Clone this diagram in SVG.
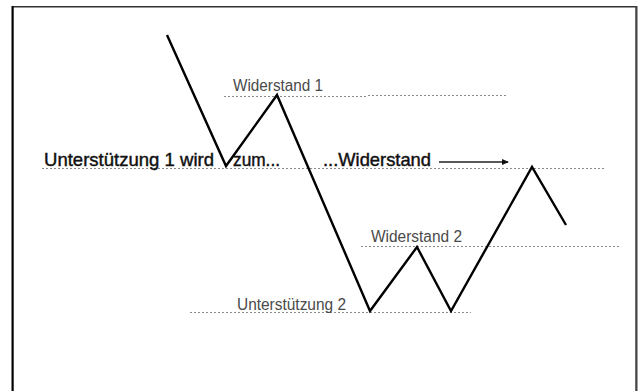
<svg xmlns="http://www.w3.org/2000/svg" width="638" height="391" viewBox="0 0 638 391">
  <style>
    .frame { fill: #ffffff; stroke: #333333; stroke-width: 1.5; }
    .level { stroke: #8a8a8a; stroke-width: 1.2; stroke-dasharray: 2 2; fill: none; }
    .price { stroke: #000000; stroke-width: 2.4; fill: none; stroke-linejoin: miter; stroke-linecap: butt; }
    .label { font-family: "Liberation Sans", Arial, sans-serif; font-size: 16px; fill: #4a4a4a; }
    .caption { font-family: "Liberation Sans", Arial, sans-serif; font-size: 19px; fill: #111111; stroke: #111111; stroke-width: 0.45; }
    .hint { stroke: #222222; stroke-width: 1.4; fill: none; }
  </style>
  <defs>
    <marker id="arrowhead" markerWidth="8" markerHeight="8" refX="6" refY="3" orient="auto" markerUnits="userSpaceOnUse">
      <path d="M0,0 L7,3 L0,6 Z" fill="#111111"/>
    </marker>
  </defs>

  <rect width="638" height="391" fill="#ffffff"/>
  <rect class="frame" x="12.75" y="6.75" width="623.5" height="400"/>
  <line x1="12.5" y1="6" x2="12.5" y2="391" stroke="#000000" stroke-width="2"/>
  <line x1="636.5" y1="6" x2="636.5" y2="391" stroke="#444444" stroke-width="2"/>

  <!-- support / resistance levels -->
  <g id="levels">
    <line class="level" x1="224" y1="96.5" x2="366" y2="96.5"/>
    <line class="level" x1="368" y1="95.5" x2="506" y2="95.5"/>
    <line class="level" x1="42" y1="168.5" x2="606" y2="168.5"/>
    <line class="level" x1="361" y1="246.5" x2="620" y2="246.5"/>
    <line class="level" x1="190" y1="312.5" x2="471" y2="312.5"/>
  </g>

  <!-- price path -->
  <g id="price">
    <polyline class="price" points="167,35 226,166 277,95 370,311 417,247 451,311 532,167 566,225"/>
  </g>

  <g id="widerstand-1">
    <text class="label" x="233" y="91" textLength="90" lengthAdjust="spacingAndGlyphs">Widerstand 1</text>
  </g>

  <g id="unterstuetzung-1">
    <text class="caption" x="44" y="166" textLength="170" lengthAdjust="spacingAndGlyphs">Unterstützung 1 wird</text>
    <text class="caption" x="233" y="166" textLength="47" lengthAdjust="spacingAndGlyphs">zum...</text>
  </g>

  <g id="widerstand-neu">
    <text class="caption" x="323" y="166" textLength="108" lengthAdjust="spacingAndGlyphs">...Widerstand</text>
  </g>

  <g id="connectors">
    <line class="hint" x1="439" y1="162" x2="508" y2="162" marker-end="url(#arrowhead)"/>
  </g>

  <g id="widerstand-2">
    <text class="label" x="371" y="242" textLength="91" lengthAdjust="spacingAndGlyphs">Widerstand 2</text>
  </g>

  <g id="unterstuetzung-2">
    <text class="label" x="237" y="310" textLength="109" lengthAdjust="spacingAndGlyphs">Unterstützung 2</text>
  </g>
</svg>
